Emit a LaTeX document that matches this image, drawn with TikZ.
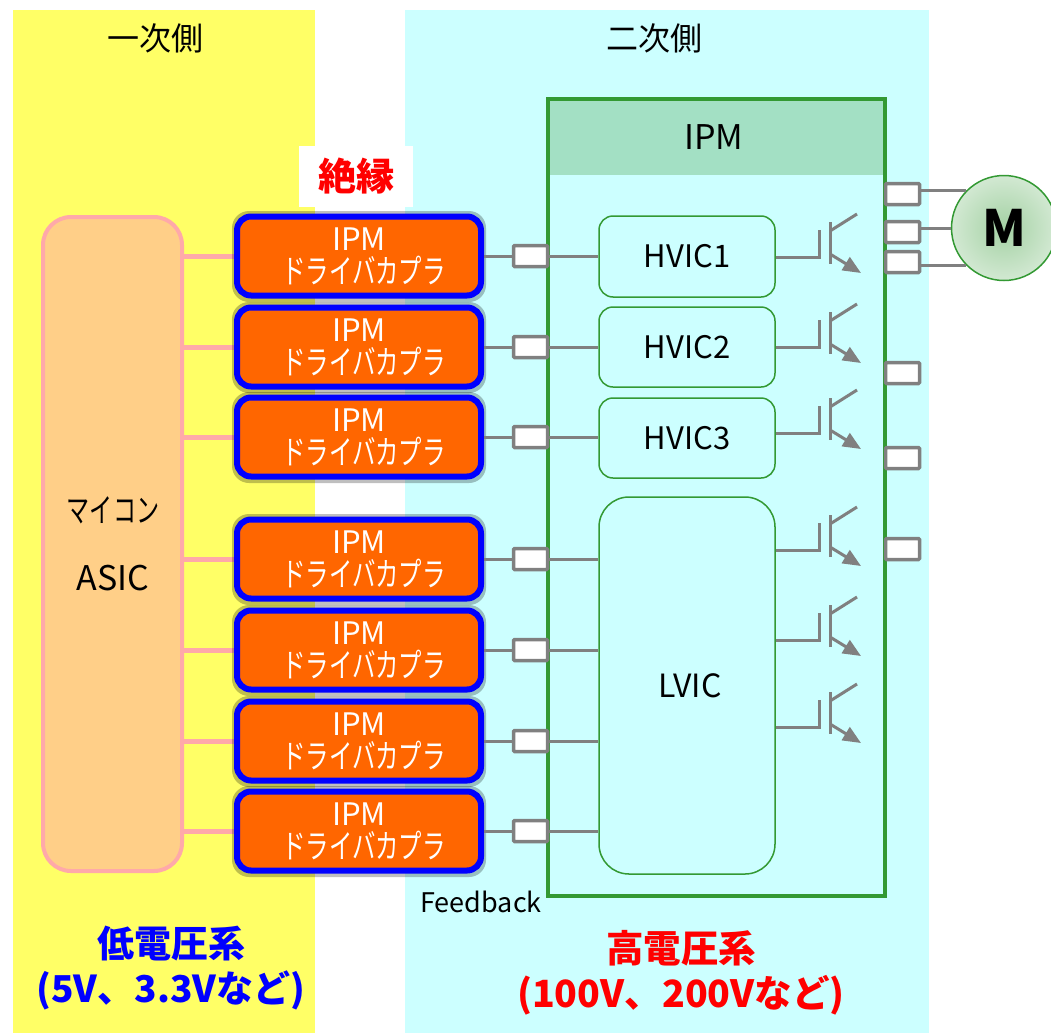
\documentclass[tikz,border=0pt]{standalone}
\usepackage{fontspec}
\usepackage{graphicx}
\setmainfont{Noto Sans CJK JP}
\usetikzlibrary{arrows.meta}
\definecolor{sideyellow}{HTML}{FFFF66}
\definecolor{sidecyan}{HTML}{CCFFFF}
\definecolor{ipmgreen}{HTML}{339933}
\definecolor{ipmhead}{HTML}{A3E0C4}
\definecolor{mcufill}{HTML}{FFCF88}
\definecolor{mculine}{HTML}{FFA9A9}
\definecolor{wiregray}{HTML}{808080}
\definecolor{drvorange}{HTML}{FF6600}
\newcommand{\fsize}[1]{\fontsize{#1}{#1}\selectfont}
\newcommand{\drvtext}{IPM\\\hspace{10pt}\scalebox{.71}[1]{\fsize{33}ドライバカプラ}}
\tikzset{
  sidelabel/.style={font=\fsize{32}},
  drvbox/.style={draw=blue,fill=drvorange,line width=6pt,rounded corners=14pt,minimum width=244pt,minimum height=79pt,
    text=white,align=center,inner sep=0pt,font=\fontsize{31}{33}\selectfont},
  drvshadow/.style={fill=black,opacity=.25,rounded corners=17pt},
  termbox/.style={draw=wiregray,fill=white,line width=3.5pt,rounded corners=1pt,minimum width=34pt,minimum height=21pt,inner sep=0pt},
  icbox/.style={draw=ipmgreen,fill=sidecyan,line width=1.5pt,rounded corners=14pt,minimum width=176pt,font=\fsize{31},inner sep=0pt},
  wire/.style={draw=wiregray,line width=3pt},
  pinkwire/.style={draw=mculine,line width=5pt},
  bigblue/.style={text=blue,align=center,font=\bfseries\fontsize{37}{45}\selectfont},
  bigred/.style={text=red,align=center,font=\bfseries\fontsize{37.5}{45}\selectfont}
}
\begin{document}
\begin{tikzpicture}[x=1pt,y=-1pt]
  \useasboundingbox (0,0) rectangle (1051,1033);
  \fill[sideyellow] (13,10) rectangle (315,1033);
  \fill[sidecyan] (405,10) rectangle (929,1033);
  \node[sidelabel] (primary) at (155,38) {一次側};
  \node[sidelabel] (secondary) at (654,38) {二次側};
  \node[fill=white,minimum width=114pt,minimum height=61pt,text=red,font=\bfseries\fsize{38}] (insul) at (356,176.5) {絶縁};

  \fill[ipmhead] (548,99) rectangle (885,175);
  \draw[ipmgreen,line width=4pt] (548,99) rectangle (885,896);
  \node[font=\fsize{34}] (ipm) at (714,137) {IPM};

  \node[draw=mculine,fill=mcufill,line width=4pt,rounded corners=28pt,minimum width=139pt,minimum height=654pt,align=center,inner sep=0pt] (mcu) at (112.5,544) {};
  \node[font=\fsize{33}] (mcutext) at (113,510) {\scalebox{.7}[1]{マイコン}};
  \node[font=\fsize{34}] (asic) at (113,578) {ASIC};

  \node[icbox,minimum height=81pt] (hvic1) at (687,256.5) {HVIC1};
  \node[icbox,minimum height=80pt] (hvic2) at (687,347) {HVIC2};
  \node[icbox,minimum height=80pt] (hvic3) at (687,438) {HVIC3};
  \node[icbox,minimum height=377pt,rounded corners=30pt,font=\fsize{32}] (lvic) at (687,685.5) {\hspace{6pt}LVIC};

  \foreach \n/\y/\ic in {1/256/hvic1,2/347/hvic2,3/437/hvic3,4/559/lvic,5/650/lvic,6/741/lvic,7/831/lvic} {
    \draw[pinkwire] (mcu.east |- 0,\y) -- (237,\y);
    \fill[drvshadow] (232,\y-45) rectangle (486,\y+46);
    \node[drvbox] (drv\n) at (359,\y) {\drvtext};
    \node[termbox] (gate\n) at (530.5,\y) {};
    \draw[wire] (drv\n.east) -- (gate\n.west);
    \draw[wire] (gate\n.east) -- (gate\n.east -| \ic.west);
  }

  \foreach \y/\ic in {257/hvic1,347/hvic2,433/hvic3,550/lvic,640/lvic,727/lvic} {
    \draw[wire] (\ic.east |- 0,\y) -- (819,\y) -- (819,\y-27);
    \draw[wire] (830,\y-35) -- (830,\y+7);
    \draw[wire] (830,\y-26) -- (857,\y-43);
    \draw[wire,-{Triangle[length=18pt,width=15pt]}] (830,\y-3) -- (861,\y+16);
  }

  \node[draw=ipmgreen,line width=1.5pt,circle,minimum size=105pt,inner sep=0pt,inner color=ipmgreen!45!white,outer color=ipmgreen!22!white,font=\bfseries\fsize{50}] (motor) at (1004,228) {M};
  \foreach \n/\y in {1/194,2/232,3/262,4/373,5/458,6/549} {
    \node[termbox] (out\n) at (902.5,\y) {};
  }
  \draw[wire] (out1.east |- motor.135) -- (motor.135);
  \draw[wire] (out2.east |- motor.west) -- (motor.west);
  \draw[wire] (out3.east |- motor.225) -- (motor.225);

  \node[font=\fsize{27}] (feedback) at (481,902) {Feedback};
  \node[bigblue] (low) at (171,968) {低電圧系\\(5V、3.3Vなど)};
  \node[bigred] (high) at (681,973) {高電圧系\\(100V、200Vなど)};
\end{tikzpicture}
\end{document}
